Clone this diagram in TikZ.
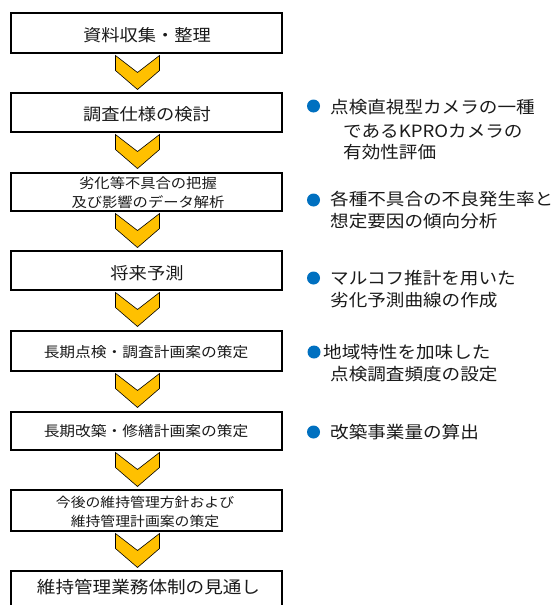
\documentclass[tikz,border=0pt]{standalone}
\usepackage{fontspec}
\setmainfont{Noto Sans CJK JP}[FakeStretch=1.1]
\usetikzlibrary{calc}
\definecolor{chevgold}{HTML}{FFC000}
\definecolor{dotblue}{HTML}{0070C0}
\definecolor{txt}{HTML}{1A1A1A}
\tikzset{
  stepbox/.style={draw=black, line width=2pt, fill=white, rectangle, inner sep=0pt, minimum width=271pt},
  boxtext/.style={inner sep=0pt, align=center, text=txt, font=\fontsize{16.6}{18.5}\selectfont},
  smalltext/.style={boxtext, font=\fontsize{14.3}{18.5}\selectfont},
  chev/.style={fill=chevgold, draw=black, line width=0.6pt, line join=miter},
  dot/.style={circle, fill=dotblue, inner sep=0pt, minimum size=13pt},
  bultext/.style={inner sep=0pt, anchor=west, text=txt, font=\fontsize{16.9}{20}\selectfont}
}
\newcommand\chevbetween[1]{%
  \draw[chev, shift={($(#1.south)+(-9,1.5)$)}] (-22,0) -- (0,17) -- (22,0) -- (22,15) -- (0,34) -- (-22,15) -- cycle;}
\begin{document}
\begin{tikzpicture}[x=1pt, y=-1pt]
\clip (0,0) rectangle (554,605);
\fill[white] (0,0) rectangle (554,605);
% boxes
\node[stepbox, minimum height=40pt]   (b1) at (146.5,33) {};
\node[stepbox, minimum height=39.5pt] (b2) at (146.5,112.3) {};
\node[stepbox, minimum height=38.5pt] (b3) at (146.5,191.8) {};
\node[stepbox, minimum height=39pt]   (b4) at (146.5,270.5) {};
\node[stepbox, minimum height=40pt]   (b5) at (146.5,351) {};
\node[stepbox, minimum height=38pt]   (b6) at (146.5,431) {};
\node[stepbox, minimum height=41pt]   (b7) at (146.5,510.5) {};
\node[stepbox, minimum height=40pt]   (b8) at (146.5,591) {};
% chevrons
\chevbetween{b1}
\chevbetween{b2}
\chevbetween{b3}
\chevbetween{b4}
\chevbetween{b5}
\chevbetween{b6}
\chevbetween{b7}
% box texts
\node[boxtext] (l1) at (147,35.5) {資料収集・整理};
\node[boxtext] (l2) at (147,114.5) {調査仕様の検討};
\node[boxtext, font=\fontsize{13.9}{18.5}\selectfont] (l3) at (148,192.8) {劣化等不具合の把握\\及び影響のデータ解析};
\node[boxtext] (l4) at (147,273.5) {将来予測};
\node[smalltext] (l5) at (146,352.5) {長期点検・調査計画案の策定};
\node[smalltext] (l6) at (146,431) {長期改築・修繕計画案の策定};
\node[boxtext, font=\fontsize{13.5}{18.5}\selectfont] (l7) at (145,511.7) {今後の維持管理方針および\\維持管理計画案の策定};
\node[boxtext, font=\fontsize{16.9}{18.5}\selectfont] (l8) at (148.5,587.5) {維持管理業務体制の見通し};
% bullets
\node[dot] (d1) at (313.5,106) {};
\node[dot] (d2) at (313.5,200) {};
\node[dot] (d3) at (313.5,278) {};
\node[dot] (d4) at (314,352) {};
\node[dot] (d5) at (313.5,432) {};
\node[bultext] (t1a) at (330,107) {点検直視型カメラの一種};
\node[bultext] (t1b) at (343,131) {であるKPROカメラの};
\node[bultext] (t1c) at (343,152.5) {有効性評価};
\node[bultext] (t2a) at (330,199) {各種不具合の不良発生率と};
\node[bultext] (t2b) at (330,221) {想定要因の傾向分析};
\node[bultext] (t3a) at (330,278) {マルコフ推計を用いた};
\node[bultext] (t3b) at (330,300) {劣化予測曲線の作成};
\node[bultext] (t4a) at (323,352.5) {地域特性を加味した};
\node[bultext] (t4b) at (330,374) {点検調査頻度の設定};
\node[bultext] (t5a) at (330,432.5) {改築事業量の算出};
\end{tikzpicture}
\end{document}
